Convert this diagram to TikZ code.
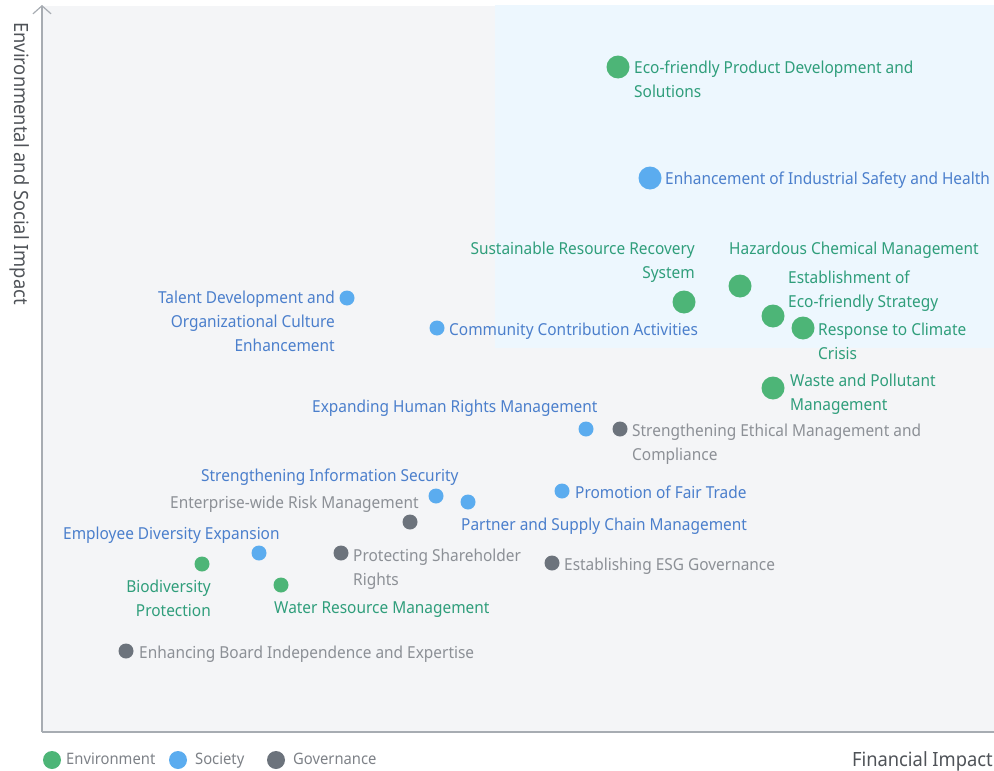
\documentclass[tikz,border=0pt]{standalone}
\usepackage{fontspec}
\setmainfont{Noto Sans}[FakeStretch=0.935]
\usetikzlibrary{arrows.meta}
\definecolor{bggray}{HTML}{F4F5F7}
\definecolor{bgblue}{HTML}{EDF7FE}
\definecolor{axisc}{HTML}{A7ACB2}
\definecolor{envtxt}{HTML}{2F9E7B}
\definecolor{envdot}{HTML}{4DB577}
\definecolor{soctxt}{HTML}{4B7FCC}
\definecolor{socdot}{HTML}{5BACEF}
\definecolor{govtxt}{HTML}{8C9096}
\definecolor{govdot}{HTML}{6C737C}
\definecolor{legtxt}{HTML}{7D8187}
\definecolor{axtxt}{HTML}{4F5358}
\newcommand{\dy}{10.5}
\tikzset{
  lbl/.style={inner sep=0pt, font=\fontsize{16.5}{24}\selectfont},
  envl/.style={lbl, text=envtxt},
  socl/.style={lbl, text=soctxt},
  govl/.style={lbl, text=govtxt},
  axl/.style={inner sep=0pt, text=axtxt, font=\fontsize{19.6}{24}\selectfont},
  legl/.style={inner sep=0pt, text=legtxt, font=\fontsize{15.8}{24}\selectfont},
  bigdot/.style={circle, inner sep=0pt, minimum size=23pt},
  smalldot/.style={circle, inner sep=0pt, minimum size=15pt},
  legdot/.style={circle, inner sep=0pt, minimum size=18pt},
}
\begin{document}
\begin{tikzpicture}[x=1pt,y=-1pt]
\useasboundingbox (0,0) rectangle (994,771);
% backgrounds
\fill[bggray] (42,6) rectangle (994,732);
\fill[bgblue] (495,5) rectangle (994,348);
% axes
\coordinate (origin) at (42,732);
\coordinate (ytop) at (42,5);
\coordinate (xend) at (994,732);
\draw[axisc, line width=1.2pt, -{Straight Barb[length=8pt,width=18pt,line width=1.2pt]}] (origin) -- (ytop);
\draw[axisc, line width=1.2pt] (origin) -- (xend);
\node[axl, rotate=-90, anchor=west] (ylab) at (20,22) {Environmental and Social Impact};
\node[axl, anchor=east] (xlab) at (993,761) {Financial Impact};

% Environment
\node[bigdot, fill=envdot] (d1) at (618,67) {};
\node[envl, anchor=north west, align=left] (t1) at (634,67-\dy) {\strut Eco-friendly Product Development and\\Solutions};
\node[bigdot, fill=envdot] (d3) at (684,302) {};
\node[envl, anchor=north east, align=right] (t3) at (695,248-\dy) {\strut Sustainable Resource Recovery\\System};
\node[bigdot, fill=envdot] (d4) at (740,286) {};
\node[envl, anchor=north west, align=left] (t4) at (729,248-\dy) {\strut Hazardous Chemical Management};
\node[bigdot, fill=envdot] (d5) at (773,316) {};
\node[envl, anchor=north west, align=left] (t5) at (788,277-\dy) {\strut Establishment of\\Eco-friendly Strategy};
\node[bigdot, fill=envdot] (d6) at (803,328) {};
\node[envl, anchor=north west, align=left] (t6) at (818,329-\dy) {\strut Response to Climate\\Crisis};
\node[bigdot, fill=envdot] (d7) at (773,388) {};
\node[envl, anchor=north west, align=left] (t7) at (790,380-\dy) {\strut Waste and Pollutant\\Management};
\node[smalldot, fill=envdot] (d8) at (202,564) {};
\node[envl, anchor=north east, align=right] (t8) at (211,586-\dy) {\strut Biodiversity\\Protection};
\node[smalldot, fill=envdot] (d9) at (281,585) {};
\node[envl, anchor=north west, align=left] (t9) at (274,607-\dy) {\strut Water Resource Management};

% Society
\node[bigdot, fill=socdot] (s1) at (650,178) {};
\node[socl, anchor=north west, align=left] (u1) at (665,178-\dy) {\strut Enhancement of Industrial Safety and Health};
\node[smalldot, fill=socdot] (s2) at (347,298) {};
\node[socl, anchor=north east, align=right] (u2) at (335,297-\dy) {\strut Talent Development and\\Organizational Culture\\Enhancement};
\node[smalldot, fill=socdot] (s3) at (437,328) {};
\node[socl, anchor=north west, align=left] (u3) at (449,329-\dy) {\strut Community Contribution Activities};
\node[smalldot, fill=socdot] (s4) at (586,429) {};
\node[socl, anchor=north west, align=left] (u4) at (312,406-\dy) {\strut Expanding Human Rights Management};
\node[smalldot, fill=socdot] (s5) at (436,496) {};
\node[socl, anchor=north west, align=left] (u5) at (201,475-\dy) {\strut Strengthening Information Security};
\node[smalldot, fill=socdot] (s6) at (468,502) {};
\node[socl, anchor=north west, align=left] (u6) at (461,524-\dy) {\strut Partner and Supply Chain Management};
\node[smalldot, fill=socdot] (s7) at (562,491) {};
\node[socl, anchor=north west, align=left] (u7) at (575,492-\dy) {\strut Promotion of Fair Trade};
\node[smalldot, fill=socdot] (s8) at (259,553) {};
\node[socl, anchor=north west, align=left] (u8) at (63,533-\dy) {\strut Employee Diversity Expansion};

% Governance
\node[smalldot, fill=govdot] (g1) at (620,429) {};
\node[govl, anchor=north west, align=left] (h1) at (632,430-\dy) {\strut Strengthening Ethical Management and\\Compliance};
\node[smalldot, fill=govdot] (g2) at (410,522) {};
\node[govl, anchor=north west, align=left] (h2) at (170,502-\dy) {\strut Enterprise-wide Risk Management};
\node[smalldot, fill=govdot] (g3) at (341,553) {};
\node[govl, anchor=north west, align=left] (h3) at (353,555-\dy) {\strut Protecting Shareholder\\Rights};
\node[smalldot, fill=govdot] (g4) at (552,563) {};
\node[govl, anchor=north west, align=left] (h4) at (564,564-\dy) {\strut Establishing ESG Governance};
\node[smalldot, fill=govdot] (g5) at (126,651) {};
\node[govl, anchor=north west, align=left] (h5) at (139,652-\dy) {\strut Enhancing Board Independence and Expertise};

% Legend
\node[legdot, fill=envdot] (l1) at (52,760) {};
\node[legl, anchor=west] (k1) at (66,760) {\strut Environment};
\node[legdot, fill=socdot] (l2) at (178,760) {};
\node[legl, anchor=west] (k2) at (195,760) {\strut Society};
\node[legdot, fill=govdot] (l3) at (276,760) {};
\node[legl, anchor=west] (k3) at (293,760) {\strut Governance};
\end{tikzpicture}
\end{document}
